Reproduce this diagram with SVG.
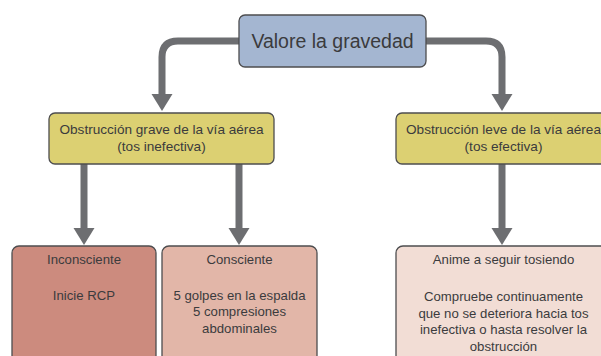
<svg xmlns="http://www.w3.org/2000/svg" width="601" height="356" viewBox="0 0 601 356">
<defs>
<style>
.box{stroke:#4d4d4f;stroke-width:1.3}
.t{font-family:"Liberation Sans",Arial,sans-serif;fill:#3b3b3d;text-anchor:middle}
.s{font-size:13.6px}
.b{font-size:13.2px}
.c{fill:none;stroke:#6d6e71;stroke-width:7}
.ah{fill:#6d6e71}
</style>
</defs>
<rect width="601" height="356" fill="#ffffff"/>
<g id="connectors">
<path class="c" d="M239 41 H178 Q162 41 162 57 V96"/>
<polygon class="ah" points="151.5,94 172.5,94 162,111"/>
<path class="c" d="M426 41 H486 Q502 41 502 57 V96"/>
<polygon class="ah" points="491.5,94 512.5,94 502,111"/>
<path class="c" d="M84 164 V230"/>
<polygon class="ah" points="73.5,228 94.5,228 84,245"/>
<path class="c" d="M239 164 V230"/>
<polygon class="ah" points="228.5,228 249.5,228 239,245"/>
<path class="c" d="M502 164 V230"/>
<polygon class="ah" points="491.5,228 512.5,228 502,245"/>
</g>
<g id="n-valore">
<rect class="box" x="239" y="15" width="187" height="52" rx="6" fill="#a4b6d1"/>
<text class="t" x="332.5" y="48" font-size="19.5">Valore la gravedad</text>
</g>
<g id="n-grave">
<rect class="box" x="49" y="113" width="225" height="51" rx="6" fill="#dcd072"/>
<text class="t s" x="161.5" y="134">Obstrucción grave de la vía aérea</text>
<text class="t s" x="161.5" y="151">(tos inefectiva)</text>
</g>
<g id="n-leve">
<rect class="box" x="396" y="113" width="220" height="51" rx="6" fill="#dcd072"/>
<text class="t s" x="503.5" y="134">Obstrucción leve de la vía aérea</text>
<text class="t s" x="503.5" y="151">(tos efectiva)</text>
</g>
<g id="n-inconsciente">
<rect class="box" x="12" y="246" width="144" height="130" rx="7" fill="#cc8b7e"/>
<text class="t b" x="84" y="264">Inconsciente</text>
<text class="t b" x="84" y="300">Inicie RCP</text>
</g>
<g id="n-consciente">
<rect class="box" x="162" y="246" width="155" height="130" rx="7" fill="#e2b6a8"/>
<text class="t b" x="239.5" y="264">Consciente</text>
<text class="t b" x="239.5" y="299.5">5 golpes en la espalda</text>
<text class="t b" x="239.5" y="316">5 compresiones</text>
<text class="t b" x="239.5" y="332.5">abdominales</text>
</g>
<g id="n-anime">
<rect class="box" x="396" y="246" width="220" height="130" rx="7" fill="#f2ddd5"/>
<text class="t b" x="503.5" y="264">Anime a seguir tosiendo</text>
<text class="t b" x="503.5" y="301">Compruebe continuamente</text>
<text class="t b" x="503.5" y="317.5">que no se deteriora hacia tos</text>
<text class="t b" x="503.5" y="334">inefectiva o hasta resolver la</text>
<text class="t b" x="503.5" y="350.5">obstrucción</text>
</g>
</svg>
